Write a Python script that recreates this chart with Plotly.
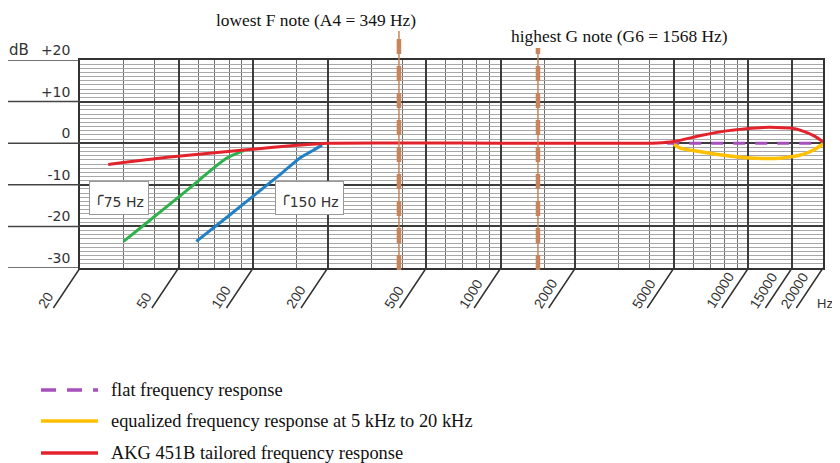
import numpy as np
import plotly.graph_objects as go

# ---------------- data ----------------
red_freq = [26, 45, 94, 150, 200, 1000, 3000, 4300, 5000, 6500, 8000, 9800, 11500, 13000, 15000, 16600, 18500, 20000]
red_db = [-5.1, -3.4, -1.6, -0.5, 0.0, 0.0, 0.0, 0.05, 0.4, 1.9, 2.9, 3.5, 3.8, 3.8, 3.6, 2.9, 1.7, 0.3]

yellow_freq = [5000, 5300, 6500, 7700, 9800, 11500, 13400, 16600, 18500, 20000]
yellow_db = [-0.3, -1.2, -2.1, -2.8, -3.5, -3.7, -3.6, -2.7, -1.5, -0.2]

purple_freq = [4700, 20000]
purple_db = [0.0, 0.0]

green_freq = [30, 38, 46, 57, 65, 78, 92]
green_db = [-23.6, -18.7, -14.7, -10.2, -7.3, -3.6, -1.7]

blue_freq = [59, 75, 91, 113, 130, 155, 175, 190]
blue_db = [-23.6, -18.7, -14.7, -10.2, -7.3, -3.5, -1.7, -0.4]

tick_freqs = [20, 50, 100, 200, 500, 1000, 2000, 5000, 10000, 15000, 20000]
tick_labels = ["20", "50", "100", "200", "500", "1000", "2000", "5000", "10000", "15000", "20000"]
minor_freqs = [30, 40, 60, 70, 80, 90, 150, 300, 400, 600, 700, 800, 900, 1500,
               3000, 4000, 6000, 7000, 8000, 9000]
db_ticks = [-30, -20, -10, 0, 10, 20]
db_labels = ["-30", "-20", "-10", "0", "+10", "+20"]
db_minor = [v for v in range(-30, 21) if v % 10 != 0]

note_freqs = [388, 1413]
note_labels = ["lowest F note (A4 = 349 Hz)", "highest G note (G6 = 1568 Hz)"]

filter_labels = ["75 Hz", "150 Hz"]

legend_labels = ["flat frequency response",
                 "equalized frequency response at 5 kHz to 20 kHz",
                 "AKG 451B tailored frequency response"]

# ---------------- style ----------------
RED = "#e3232b"
YELLOW = "#ffc000"
PURPLE = "#a64fbd"
GREEN = "#2eb04a"
BLUE = "#1f80c6"
NOTE = "#c8845a"
SANS = "DejaVu Sans"
TICKSANS = "Liberation Sans"
SERIF = "Liberation Serif"
PDASH = "12px,10px"

fig = go.Figure()
fig.add_trace(go.Scatter(x=green_freq, y=green_db, mode="lines",
                         line=dict(color=GREEN, width=3, shape="spline", smoothing=0.6),
                         showlegend=False, hoverinfo="skip"))
fig.add_trace(go.Scatter(x=blue_freq, y=blue_db, mode="lines",
                         line=dict(color=BLUE, width=3, shape="spline", smoothing=0.6),
                         showlegend=False, hoverinfo="skip"))
fig.add_trace(go.Scatter(x=purple_freq, y=purple_db, mode="lines", name=legend_labels[0],
                         line=dict(color=PURPLE, width=3, dash=PDASH),
                         showlegend=False, hoverinfo="skip"))
fig.add_trace(go.Scatter(x=red_freq, y=red_db, mode="lines", name=legend_labels[2],
                         line=dict(color=RED, width=3, shape="spline", smoothing=0.6),
                         showlegend=False, hoverinfo="skip"))
fig.add_trace(go.Scatter(x=yellow_freq, y=yellow_db, mode="lines", name=legend_labels[1],
                         line=dict(color=YELLOW, width=3.5, shape="spline", smoothing=0.8),
                         showlegend=False, hoverinfo="skip"))

# plot area (page pixels): left 80, right 823, top 60, bottom 268
PW, PH = 743.0, 208.0

def px_x(px):
    return (px - 80) / PW

def px_y(py):
    return (268 - py) / PH

annotations = []
shapes = []

# x tick labels (slanted) and their slanted leader lines
for f, lab in zip(tick_freqs, tick_labels):
    annotations.append(dict(x=np.log10(f), y=-30, xref="x", yref="y", text=" ",
                            showarrow=True, arrowhead=0, arrowwidth=1.5, arrowcolor="#333",
                            ax=-28, ay=42, font=dict(size=1)))
    annotations.append(dict(x=np.log10(f), y=px_y(314), xref="x", yref="paper", text=lab,
                            showarrow=False, textangle=-58, xanchor="left", yanchor="bottom",
                            xshift=-48, font=dict(family=TICKSANS, size=14, color="#333")))
annotations.append(dict(x=px_x(825), y=px_y(303), xref="paper", yref="paper", text="Hz",
                        showarrow=False, xanchor="center", yanchor="middle",
                        font=dict(family=TICKSANS, size=13, color="#333")))
annotations.append(dict(x=px_x(19), y=px_y(50), xref="paper", yref="paper", text="dB",
                        showarrow=False, xanchor="center", yanchor="middle",
                        font=dict(family=SANS, size=15, color="#333")))

# filter boxes
for cx, txt in zip([119, 309], filter_labels):
    annotations.append(dict(x=px_x(cx), y=px_y(198), xref="paper", yref="paper",
                            text="<sup><span style='font-size:16px'>╭</span></sup>" + txt,
                            showarrow=False, xanchor="center", yanchor="middle",
                            bgcolor="white", bordercolor="#999", borderwidth=1,
                            borderpad=4, font=dict(family=SANS, size=14, color="#333")))

# note labels and dashed note lines
for (rx, cy), txt in zip([(418, 20), (730, 36)], note_labels):
    annotations.append(dict(x=px_x(rx), y=px_y(cy), xref="paper", yref="paper", text=txt,
                            showarrow=False, xanchor="right", yanchor="middle",
                            font=dict(family=SERIF, size=17.4, color="#111")))
for f, top in zip(note_freqs, [31, 48]):
    shapes.append(dict(type="line", xref="x", yref="paper", x0=f, x1=f,
                       y0=px_y(270), y1=px_y(top), line=dict(color=NOTE, width=1.5)))
    shapes.append(dict(type="line", xref="x", yref="paper", x0=f, x1=f,
                       y0=px_y(270), y1=px_y(top), line=dict(color=NOTE, width=4.5, dash="15px,12px")))

# horizontal major lines extended to the left edge
for v in db_ticks:
    shapes.append(dict(type="line", xref="paper", yref="y", x0=px_x(8), x1=0, y0=v, y1=v,
                       line=dict(color="#444", width=1.5)))

# legend (drawn below the chart)
leg_colors = [PURPLE, YELLOW, RED]
leg_dash = ["15px,11px", "solid", "solid"]
for lab, col, dsh, cy in zip(legend_labels, leg_colors, leg_dash, [390, 421, 453]):
    shapes.append(dict(type="line", xref="paper", yref="paper", x0=px_x(41), x1=px_x(98),
                       y0=px_y(cy), y1=px_y(cy), line=dict(color=col, width=3.5, dash=dsh)))
    annotations.append(dict(x=px_x(109), y=px_y(cy), xref="paper", yref="paper", text=lab,
                            showarrow=False, xanchor="left", yanchor="middle",
                            font=dict(family=SERIF, size=18.4, color="#111")))

# the page body adds an 8px margin, so the figure is 8px smaller and margins 8px less
fig.update_layout(
    width=832, height=455,
    margin=dict(l=72, r=17, t=52, b=195),
    paper_bgcolor="white", plot_bgcolor="white",
    showlegend=False,
    annotations=annotations, shapes=shapes,
    xaxis=dict(type="log", range=[np.log10(20), np.log10(20000)],
               tickmode="array", tickvals=tick_freqs, showticklabels=False, ticks="",
               showgrid=True, gridcolor="#3c3c3c", gridwidth=1.5, zeroline=False,
               showline=True, mirror=True, linecolor="#333", linewidth=1.5,
               minor=dict(tickmode="array", tickvals=minor_freqs, showgrid=True,
                          gridcolor="#6e6e6e", gridwidth=1, ticks="")),
    yaxis=dict(range=[-30, 20], tickmode="array", tickvals=db_ticks, ticktext=db_labels,
               ticks="", showgrid=True, gridcolor="#3c3c3c", gridwidth=1.5, zeroline=False,
               showline=True, mirror=True, linecolor="#333", linewidth=1.5,
               ticklabelshift=-10, ticklabelstandoff=5,
               tickfont=dict(family=SANS, size=14, color="#333"),
               minor=dict(tickmode="array", tickvals=db_minor, showgrid=True,
                          gridcolor="#a8a8a8", gridwidth=1, ticks="")),
    hovermode=False,
)

fig.write_html("out.html", config={"displayModeBar": False})
